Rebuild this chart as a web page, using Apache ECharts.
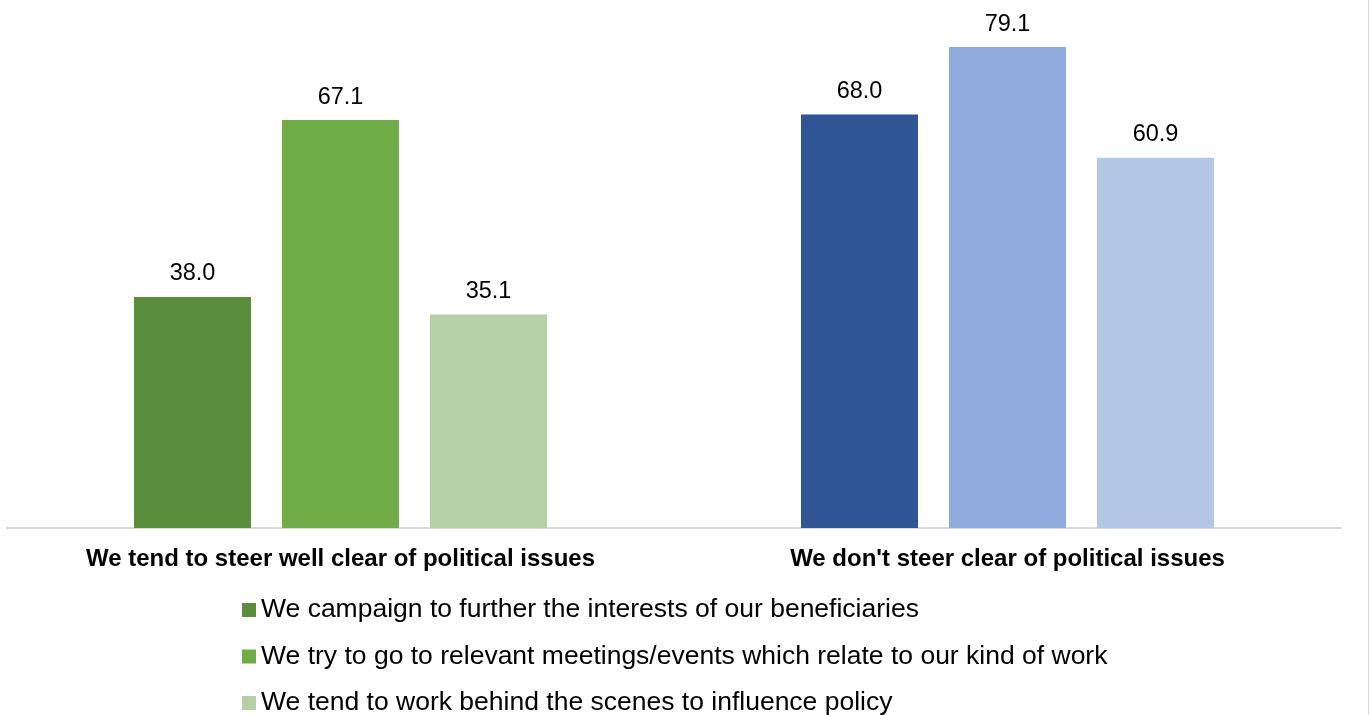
<!DOCTYPE html>
<html>
<head>
<meta charset="utf-8">
<script src="https://cdn.jsdelivr.net/npm/echarts@6/dist/echarts.min.js"></script>
<style>
html,body{margin:0;padding:0;background:#fff;}
#chart{width:1370px;height:715px;}
</style>
</head>
<body>
<div id="chart"></div>
<script>
var categories = ["We tend to steer well clear of political issues", "We don't steer clear of political issues"];
var seriesNames = [
  "We campaign to further the interests of our beneficiaries",
  "We try to go to relevant meetings/events which relate to our kind of work",
  "We tend to work behind the scenes to influence policy"
];
var campaignValues = [38.0, 68.0];
var meetingsValues = [67.1, 79.1];
var behindScenesValues = [35.1, 60.9];
var greenColors = ["#5B8E3A", "#70AD47", "#B5CFA7"];
var blueColors = ["#2F5597", "#8FAADC", "#B4C7E7"];

var allValues = [campaignValues, meetingsValues, behindScenesValues];

var chart = echarts.init(document.getElementById('chart'));
var series = allValues.map(function (vals, i) {
  return {
    name: seriesNames[i],
    type: 'bar',
    barWidth: 117,
    barGap: '26.5%',
    itemStyle: { color: greenColors[i] },
    label: {
      show: true,
      position: 'top',
      distance: 11,
      color: '#000',
      fontSize: 23.5,
      fontFamily: 'Liberation Sans, Arial, sans-serif',
      formatter: function (p) { return p.value.toFixed(1); }
    },
    data: vals.map(function (v, j) {
      return { value: v, itemStyle: { color: j === 0 ? greenColors[i] : blueColors[i] } };
    })
  };
});

chart.setOption({
  animation: false,
  textStyle: { fontFamily: 'Liberation Sans, Arial, sans-serif' },
  grid: { left: 7, right: 29, top: 41.6, bottom: 187, containLabel: false },
  xAxis: {
    type: 'category',
    data: categories,
    axisLine: { show: true, lineStyle: { color: '#D9D9D9', width: 2 } },
    axisTick: { show: false },
    axisLabel: {
      color: '#000',
      fontWeight: 'bold',
      fontSize: 24,
      margin: 19,
      fontFamily: 'Liberation Sans, Arial, sans-serif'
    }
  },
  yAxis: {
    type: 'value',
    min: 0,
    max: 80,
    show: false,
    splitLine: { show: false }
  },
  legend: {
    orient: 'vertical',
    left: 242,
    top: 595,
    height: 160,
    padding: 0,
    itemWidth: 14,
    itemHeight: 14,
    itemGap: 16.5,
    itemTextGap: 9,
    icon: 'rect',
    textStyle: {
      color: '#000',
      fontSize: 26.5,
      lineHeight: 30,
      fontFamily: 'Liberation Sans, Arial, sans-serif'
    },
    data: seriesNames
  },
  graphic: [{
    type: 'line',
    shape: { x1: 1368.5, y1: 0, x2: 1368.5, y2: 715 },
    style: { stroke: '#D9D9D9', lineWidth: 1 }
  }],
  series: series
});
</script>
</body>
</html>
